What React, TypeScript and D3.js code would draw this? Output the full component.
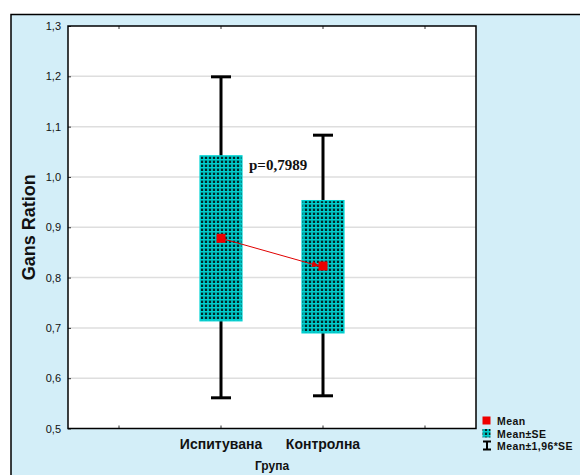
import * as d3 from "d3";
import { useEffect, useRef } from "react";

const groups = ["Испитувана", "Контролна"];
const means = [0.878, 0.823];
const seLow = [0.714, 0.69];
const seHigh = [1.042, 0.953];
const ciLow = [0.561, 0.565];
const ciHigh = [1.199, 1.083];
const yTicks = [0.5, 0.6, 0.7, 0.8, 0.9, 1.0, 1.1, 1.2, 1.3];
const slots = ["a", groups[0], groups[1], "b"];

const W = 580;
const H = 475;
const font = "'Liberation Sans', Arial, sans-serif";

const App = () => {
    const ref = useRef(null);

    useEffect(() => {
        const svg = d3.select(ref.current);
        svg.selectAll("*").remove();

        const margin = { top: 26, left: 68, right: 104, bottom: 46.5 };
        const x = d3.scaleBand().domain(slots).range([margin.left, W - margin.right]).padding(0);
        const y = d3.scaleLinear().domain([0.5, 1.3]).range([H - margin.bottom, margin.top]);
        const cx = (d) => x(d) + x.bandwidth() / 2;

        // узор для прямоугольников
        const defs = svg.append("defs");
        const pat = defs.append("pattern")
            .attr("id", "dots")
            .attr("patternUnits", "userSpaceOnUse")
            .attr("width", 4).attr("height", 4);
        pat.append("rect").attr("width", 4).attr("height", 4).attr("fill", "#00b4b4");
        pat.append("rect").attr("x", 1).attr("y", 0).attr("width", 2).attr("height", 4).attr("fill", "#008a8a");
        pat.append("rect").attr("x", 1).attr("y", 1).attr("width", 2).attr("height", 2).attr("fill", "#002828");
        pat.append("rect").attr("x", 0).attr("y", 3).attr("width", 4).attr("height", 1).attr("fill", "#00d0d0");

        defs.append("marker")
            .attr("id", "arr")
            .attr("viewBox", "0 0 10 10")
            .attr("refX", 9).attr("refY", 5)
            .attr("markerWidth", 8).attr("markerHeight", 8)
            .attr("orient", "auto")
            .append("path").attr("d", "M0,1 L10,5 L0,9 Z").attr("fill", "#e00000");

        // фон
        svg.append("rect").attr("x", 0).attr("y", 0).attr("width", W).attr("height", H).attr("fill", "white");
        svg.append("rect")
            .attr("x", 11).attr("y", 14.5).attr("width", W).attr("height", H)
            .attr("fill", "#d3eef8").attr("stroke", "black").attr("stroke-width", 1.5);

        const plotW = W - margin.left - margin.right;
        const plotH = H - margin.top - margin.bottom;
        svg.append("rect")
            .attr("x", margin.left).attr("y", margin.top).attr("width", plotW).attr("height", plotH)
            .attr("fill", "white");

        // сетка
        svg.append("g").selectAll("line")
            .data(yTicks.slice(1, -1))
            .enter().append("line")
            .attr("x1", margin.left).attr("x2", W - margin.right)
            .attr("y1", d => y(d)).attr("y2", d => y(d))
            .attr("stroke", "#dedede").attr("stroke-width", 1.5);

        // оси
        const yAxis = d3.axisLeft(y).tickValues(yTicks).tickSize(-3).tickPadding(7)
            .tickFormat(d => d3.format(".1f")(d).replace(".", ","));
        const gy = svg.append("g").attr("transform", `translate(${margin.left},0)`).call(yAxis);
        gy.select(".domain").remove();
        gy.selectAll("text").attr("font-family", font).attr("font-size", 11).attr("fill", "#111");
        gy.selectAll("line").attr("stroke", "#333");

        const xAxis = d3.axisBottom(x).tickSize(-3).tickPadding(11).tickFormat(d => groups.includes(d) ? d : "");
        const gx = svg.append("g").attr("transform", `translate(0,${H - margin.bottom})`).call(xAxis);
        gx.select(".domain").remove();
        gx.selectAll("text").attr("font-family", font).attr("font-size", 14).attr("font-weight", "bold").attr("fill", "#111");
        gx.selectAll("line").attr("stroke", "#333");

        const xTop = d3.axisTop(x).tickSize(-3).tickFormat(() => "");
        const gt = svg.append("g").attr("transform", `translate(0,${margin.top})`).call(xTop);
        gt.select(".domain").remove();
        gt.selectAll("line").attr("stroke", "#333");

        // усы
        const g = svg.append("g");
        groups.forEach((d, i) => {
            g.append("line")
                .attr("x1", cx(d)).attr("x2", cx(d))
                .attr("y1", y(ciLow[i])).attr("y2", y(ciHigh[i]))
                .attr("stroke", "black").attr("stroke-width", 3);
            [ciLow[i], ciHigh[i]].forEach(v => {
                g.append("line")
                    .attr("x1", cx(d) - 10).attr("x2", cx(d) + 10)
                    .attr("y1", y(v)).attr("y2", y(v))
                    .attr("stroke", "black").attr("stroke-width", 3);
            });
        });

        // прямоугольники ±SE
        g.selectAll(".box")
            .data(groups)
            .enter().append("rect")
            .attr("x", d => cx(d) - 21)
            .attr("width", 42)
            .attr("y", (d, i) => y(seHigh[i]))
            .attr("height", (d, i) => y(seLow[i]) - y(seHigh[i]))
            .attr("fill", "url(#dots)")
            .attr("stroke", "#00d4d4").attr("stroke-width", 1.2);

        // линия между средними
        g.append("line")
            .attr("x1", cx(groups[0])).attr("y1", y(means[0]))
            .attr("x2", cx(groups[1]) - 4).attr("y2", y(means[1]))
            .attr("stroke", "#e00000").attr("stroke-width", 1)
            .attr("marker-end", "url(#arr)");

        g.selectAll(".mean")
            .data(groups)
            .enter().append("rect")
            .attr("x", d => cx(d) - 4.5)
            .attr("y", (d, i) => y(means[i]) - 4.5)
            .attr("width", 9).attr("height", 9)
            .attr("fill", "#ee0000");

        svg.append("text")
            .attr("x", cx(groups[0]) + 28).attr("y", y(1.0) - 7)
            .attr("font-family", "'Liberation Serif', 'Times New Roman', serif")
            .attr("font-size", 15).attr("font-weight", "bold").attr("fill", "#111")
            .text("p=0,7989");

        // рамка
        svg.append("rect")
            .attr("x", margin.left).attr("y", margin.top).attr("width", plotW).attr("height", plotH)
            .attr("fill", "none").attr("stroke", "black").attr("stroke-width", 1.5);

        // подписи осей
        svg.append("text")
            .attr("transform", `translate(35,${(margin.top + H - margin.bottom) / 2}) rotate(-90)`)
            .attr("text-anchor", "middle")
            .attr("font-family", font).attr("font-size", 18).attr("font-weight", "bold").attr("fill", "#111")
            .text("Gans Ration");
        svg.append("text")
            .attr("x", margin.left + plotW / 2).attr("y", 470)
            .attr("text-anchor", "middle")
            .attr("font-family", font).attr("font-size", 12).attr("font-weight", "bold").attr("fill", "#111")
            .text("Група");

        // легенда
        const lg = svg.append("g").attr("font-family", font).attr("font-size", 10.5).attr("font-weight", "bold")
            .attr("letter-spacing", 0.4).attr("fill", "#111");
        lg.append("rect").attr("x", 482.5).attr("y", 416.5).attr("width", 8).attr("height", 8).attr("fill", "#ee0000");
        lg.append("text").attr("x", 497).attr("y", 425).text("Mean");
        lg.append("rect").attr("x", 482.5).attr("y", 429).attr("width", 8).attr("height", 8.5).attr("fill", "url(#dots)");
        lg.append("text").attr("x", 497).attr("y", 437.5).text("Mean±SE");
        const ix = 487;
        lg.append("path")
            .attr("d", `M${ix - 4},441.5 H${ix + 4} M${ix},441.5 V449.5 M${ix - 4},449.5 H${ix + 4}`)
            .attr("stroke", "black").attr("stroke-width", 2).attr("fill", "none");
        lg.append("text").attr("x", 497).attr("y", 450).text("Mean±1,96*SE");
    }, []);

    return (
        <div style={{ position: "absolute", left: 0, top: 0 }}>
            <svg ref={ref} width={W} height={H} style={{ display: "block" }}></svg>
        </div>
    );
};

export default App;
